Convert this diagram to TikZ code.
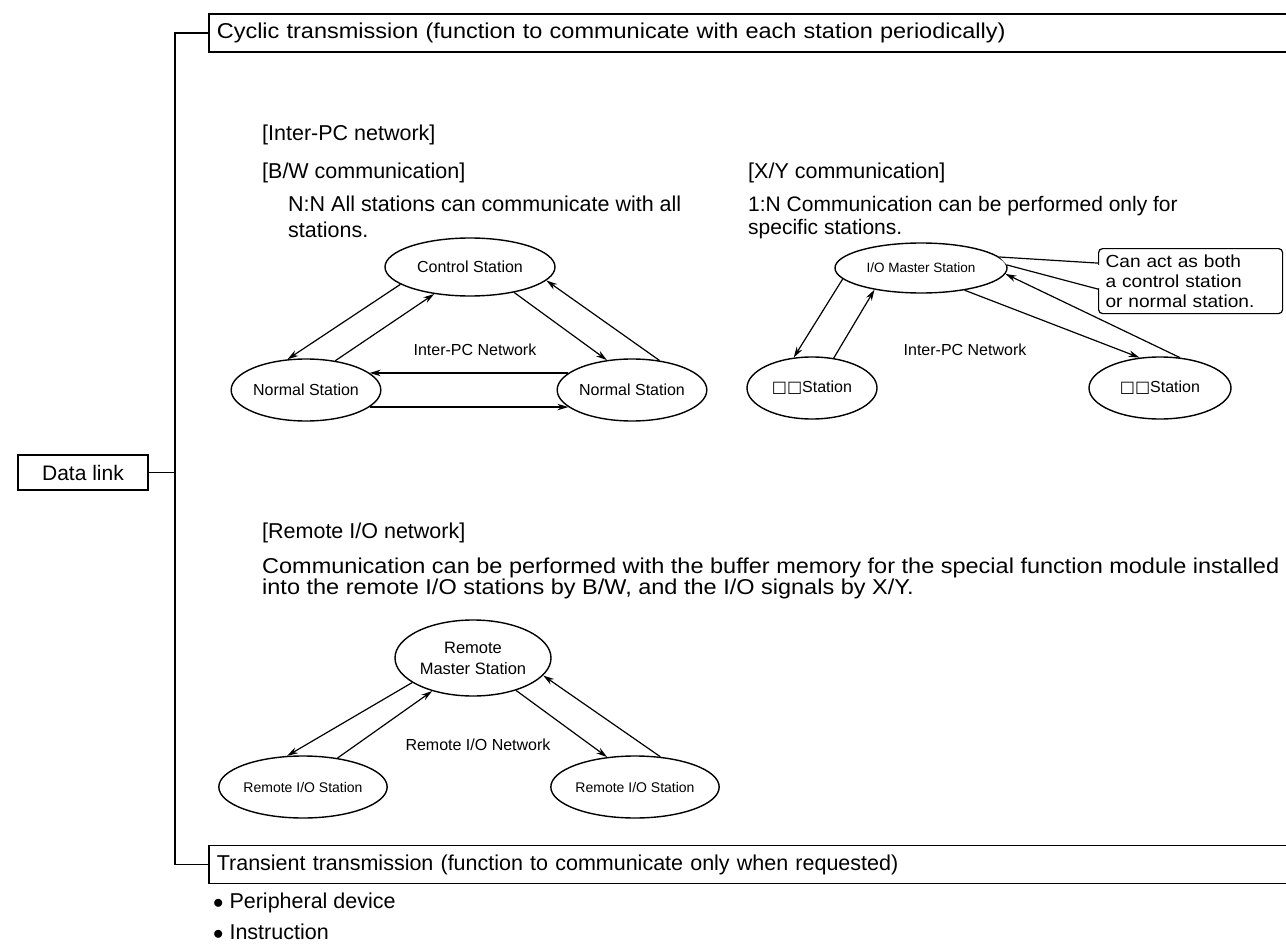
\documentclass[tikz,border=0pt]{standalone}
\usepackage{fontspec}
\setmainfont{Liberation Sans}
\newfontfamily\widesans{Liberation Sans}[FakeStretch=1.093]
\newfontfamily\boxglyphs{DejaVu Sans}
\usetikzlibrary{shapes.geometric,arrows.meta,calc}

\begin{document}
\begin{tikzpicture}[x=1pt,y=-1pt,
  txt/.style={anchor=west,inner sep=0pt,align=left,font=\fontsize{21.5}{26}\selectfont},
  band/.style={draw,line width=1.6pt,anchor=west,inner xsep=8pt,inner ysep=0pt,
    minimum height=38pt,text width=1070pt,align=left,font=\fontsize{21.5}{26}\selectfont},
  stn/.style={draw,ellipse,line width=1.4pt,inner sep=0pt,align=center,
    font=\fontsize{16}{19}\selectfont},
  stnsmall/.style={stn,font=\fontsize{13.5}{16}\selectfont},
  netlbl/.style={inner sep=0pt,font=\fontsize{16}{19}\selectfont},
  lnk/.style={line width=1.2pt,-{Stealth[length=11pt,width=6.5pt]}},
  tree/.style={line width=1.5pt}
]
\useasboundingbox (0,0) rectangle (1286,947);

% ---- tree of the data link functions ----
\node[band,font=\widesans\fontsize{21.5}{26}\selectfont] (cyc) at (208,33) {Cyclic transmission (function to communicate with each station periodically)};
\node[band] (trn) at (208,864.5) {Transient transmission (function to communicate only when requested)};
\node[draw,line width=1.4pt,minimum width=130pt,minimum height=35pt,inner sep=0pt,
  font=\fontsize{21}{25}\selectfont] (dl) at (83,472.5) {Data link};
\coordinate (trunk) at (175,0);
\draw[tree] (cyc.west) -- (cyc.west -| trunk) -- (trn.west -| trunk) -- (trn.west);
\draw[tree] (dl.east) -- (dl.east -| trunk);

% ---- headings and descriptions ----
\node[txt] (hpc) at (262,135) {[Inter-PC network]};
\node[txt] (hbw) at (262,173) {[B/W communication]};
\node[txt,anchor=north west] (dbw) at (288,196) {N:N All stations can communicate with all\\stations.};
\node[txt] (hxy) at (748,173) {[X/Y communication]};
\node[txt,anchor=north west,font=\fontsize{21}{23}\selectfont] (dxy) at (748,196) {1:N Communication can be performed only for\\specific stations.};
\node[txt] (hrio) at (262,533) {[Remote I/O network]};
\node[txt,anchor=north west,font=\widesans\fontsize{21.5}{19}\selectfont] (drio) at (262,558)
  {Communication can be performed with the buffer memory for the special function module installed\\into the remote I/O stations by B/W, and the I/O signals by X/Y.};
\node[txt] (b1) at (213,903) {$\bullet$ Peripheral device};
\node[txt] (b2) at (213,932) {$\bullet$ Instruction};

% ---- B/W communication ----
\node[stn,minimum width=170pt,minimum height=58pt] (ctrl) at (470,267) {Control Station};
\node[stn,minimum width=146pt,minimum height=62pt] (nl) at (306,390) {Normal Station};
\node[stn,minimum width=146pt,minimum height=62pt] (nr) at (632,390) {Normal Station};
\node[netlbl] (netA) at (475,350) {Inter-PC Network};
\draw[lnk] (ctrl.194) -- (nl.121);
\draw[lnk] (nl.45) -- (ctrl.217);
\draw[lnk] (ctrl.330) -- (nr.130);
\draw[lnk] (nr.47) -- (ctrl.350);
\draw[lnk] (nr.165) -- (nl.15);
\draw[lnk] (nl.-15) -- (nr.195);

% ---- X/Y communication ----
\node[stnsmall,minimum width=172pt,minimum height=50pt] (iom) at (921,268) {I/O Master Station};
\node[stn,minimum width=130pt,minimum height=62pt] (xl) at (812,388) {{\boxglyphs □□}Station};
\node[stn,minimum width=142pt,minimum height=62pt] (xr) at (1160,388) {{\boxglyphs □□}Station};
\node[netlbl] (netB) at (965,350) {Inter-PC Network};
\draw[lnk] (iom.188) -- (xl.121);
\draw[lnk] (xl.54) -- (iom.205);
\draw[lnk] (iom.333) -- (xr.124);
\draw[lnk] (xr.57) -- (iom.356);

% callout on the master station
\node[draw,rounded corners=4pt,line width=1.2pt,anchor=north west,inner xsep=7pt,inner ysep=2pt,
  align=left,font=\widesans\fontsize{17.5}{20}\selectfont,minimum width=184pt,minimum height=65pt,text width=170pt]
  (note) at (1098,248) {Can act as both\\a control station\\or normal station.};
\coordinate (pa) at ($(note.west)+(0,-18)$);
\coordinate (pb) at ($(note.west)+(0,8)$);
\fill[white] (iom.8) -- (pa) -- (pb) -- (iom.2) -- cycle;
\draw[white,line width=3pt] ($(pa)+(0,1.5)$) -- ($(pb)+(0,-1.5)$);
\draw[line width=1.2pt] (pa) -- (iom.8);
\draw[line width=1.2pt] (pb) -- (iom.2);

% ---- Remote I/O network ----
\node[stn,font=\fontsize{16.5}{21}\selectfont,minimum width=156pt,minimum height=76pt] (rm) at (473,658) {Remote\\Master Station};
\node[stnsmall,font=\fontsize{14}{16}\selectfont,minimum width=136pt,minimum height=62pt] (rl) at (303,787) {Remote I/O Station};
\node[stnsmall,font=\fontsize{14}{16}\selectfont,minimum width=136pt,minimum height=62pt] (rr) at (635,787) {Remote I/O Station};
\node[netlbl] (netC) at (478,745) {Remote I/O Network};
\draw[lnk] (rm.202) -- (rl.117);
\draw[lnk] (rl.40) -- (rm.219);
\draw[lnk] (rm.323) -- (rr.133);
\draw[lnk] (rr.50) -- (rm.346);
\end{tikzpicture}
\end{document}
